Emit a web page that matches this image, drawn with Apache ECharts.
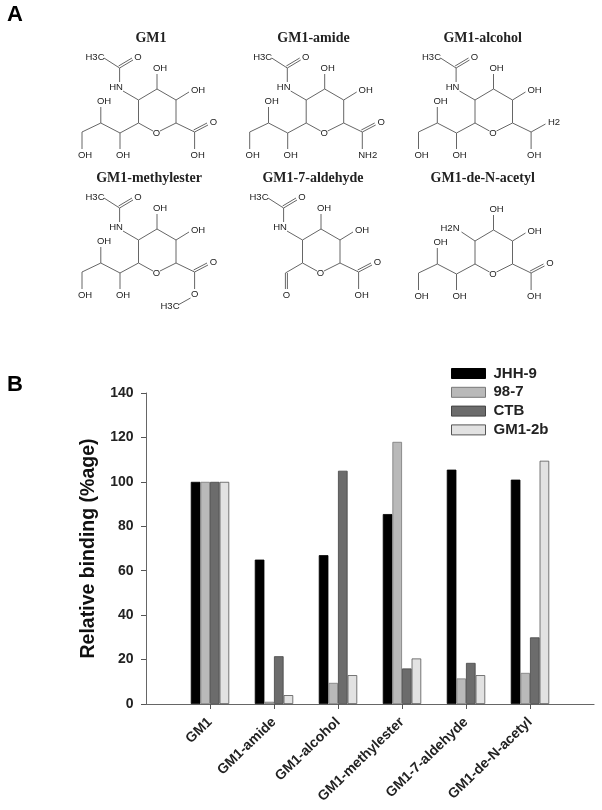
<!DOCTYPE html>
<html><head><meta charset="utf-8">
<style>html,body{margin:0;padding:0;background:#fff}#c{width:602px;height:810px}</style>
<script src="https://cdn.jsdelivr.net/npm/echarts@6/dist/echarts.min.js"></script>
</head><body><div id="c"></div>
<script>
const categories = ['GM1','GM1-amide','GM1-alcohol','GM1-methylester','GM1-7-aldehyde','GM1-de-N-acetyl'];
const jhh9  = [100, 65, 67, 85.5, 105.5, 101];
const s987  = [100, 1, 9.5, 118, 11.5, 14];
const ctb   = [100, 21.5, 105, 16, 18.5, 30];
const gm12b = [100, 4, 13, 20.5, 13, 109.5];
const seriesNames = ['JHH-9','98-7','CTB','GM1-2b'];
const seriesColors = ['#000000','#b9b9b9','#6c6c6c','#e2e2e2'];
const seriesBorders = ['#000000','#777777','#444444','#555555'];
const seriesValues = [jhh9, s987, ctb, gm12b];

// --- skeletal structure drawing (panel A), in a shared local frame ---
const ringBonds = [[157,89,176,100],[176,100,176,123],[176,123,160,131],[153,131,138.5,123],[138.5,123,138.5,100],[138.5,100,157,89],[157,89,157,74],[176,100,189,92]];
const ringLabels = [['O',156.5,133],['OH',160,68],['OH',198,90]];
const acetylBonds = [[138.5,100,123,91],[119.6,82,119.6,68],[104,58,119.6,68],[119.6,68,133,60],[118.6,66,132,58]];
const acetylLabels = [['HN',116,87],['H3C',95,57],['O',138,57]];
const tailBonds = [[138.5,123,120,133],[120,133,120,149],[120,133,100.8,123],[100.8,123,100.8,107],[100.8,123,82,132],[82,132,82,149]];
const tailLabels = [['OH',123,155],['OH',104,101],['OH',85,155]];
const acidDouble = [[176,123,194.6,132],[194.6,132,208,125],[193.6,130,207,123]];
const acidBonds = [[194.6,132,194.6,149]];
const structures = [
  {title:'GM1', tx:151, ty:38, dx:0, dy:0, bonds:[...acetylBonds,...tailBonds,...acidDouble,...acidBonds], labels:[...acetylLabels,...tailLabels,['O',213.5,122],['OH',197.7,155]]},
  {title:'GM1-amide', tx:313.5, ty:38, dx:167.7, dy:0, bonds:[...acetylBonds,...tailBonds,...acidDouble,...acidBonds], labels:[...acetylLabels,...tailLabels,['O',213.5,122],['NH2',200,155]]},
  {title:'GM1-alcohol', tx:482.7, ty:38, dx:336.5, dy:0, bonds:[...acetylBonds,...tailBonds,[176,123,194.6,132],[194.6,132,209,124],...acidBonds], labels:[...acetylLabels,...tailLabels,['H2',217.5,122],['OH',197.7,155]]},
  {title:'GM1-methylester', tx:149, ty:178, dx:0, dy:140, bonds:[...acetylBonds,...tailBonds,...acidDouble,[194.6,132,194.6,149],[190.5,158,178,165]], labels:[...acetylLabels,...tailLabels,['O',213.5,122],['O',194.6,154],['H3C',170,166]]},
  {title:'GM1-7-aldehyde', tx:313, ty:178, dx:164, dy:140, bonds:[...acetylBonds,[138.5,123,121.4,133],[121.4,133,121.4,149],[123.4,133,123.4,149],...acidDouble,...acidBonds], labels:[...acetylLabels,['O',122.4,155],['O',213.5,122],['OH',197.7,155]]},
  {title:'GM1-de-N-acetyl', tx:482.7, ty:178, dx:336.5, dy:141, bonds:[[138.5,100,125,91],...tailBonds,...acidDouble,...acidBonds], labels:[['H2N',113.5,87],...tailLabels,['O',213.5,122],['OH',197.7,155]]}
];
const panelLetters = [['A',15,15],['B',15,385]];

function structureGraphics(){
  const out = [];
  structures.forEach(s=>{
    out.push({type:'text',silent:true,style:{text:s.title,x:s.tx,y:s.ty,textAlign:'center',textVerticalAlign:'middle',font:'bold 14px "Liberation Serif"',fill:'#222'}});
    [...ringBonds,...s.bonds].forEach(b=>out.push({type:'line',silent:true,shape:{x1:b[0]+s.dx,y1:b[1]+s.dy,x2:b[2]+s.dx,y2:b[3]+s.dy},style:{stroke:'#666',lineWidth:1}}));
    [...ringLabels,...s.labels].forEach(l=>out.push({type:'text',silent:true,style:{text:l[0],x:l[1]+s.dx,y:l[2]+s.dy,textAlign:'center',textVerticalAlign:'middle',font:'9.5px "Liberation Sans"',fill:'#222'}}));
  });
  panelLetters.forEach(l=>out.push({type:'text',silent:true,style:{text:l[0],x:l[1],y:l[2],textAlign:'center',textVerticalAlign:'middle',font:'bold 22px "Liberation Sans"',fill:'#000'}}));
  return out;
}

const chart = echarts.init(document.getElementById('c'),null,{renderer:'canvas'});
chart.setOption({
  animation:false,
  backgroundColor:'#fff',
  grid:{left:146,top:393,width:448,height:311,containLabel:false},
  legend:{orient:'vertical',left:446,top:361,itemWidth:34,itemHeight:10,itemGap:3.8,icon:'rect',
    itemStyle:{borderWidth:1},
    textStyle:{fontFamily:'Liberation Sans',fontWeight:'bold',fontSize:15,color:'#222',padding:[0,0,0,3]},
    data:seriesNames},
  xAxis:{type:'category',boundaryGap:false,data:['',...categories,''],
    axisLine:{onZero:true,lineStyle:{color:'#666',width:1.2}},
    axisTick:{length:5,lineStyle:{color:'#555'},interval:(i,v)=>v!==''},
    axisLabel:{interval:0,rotate:44,margin:16,fontFamily:'Liberation Sans',fontWeight:'bold',fontSize:14,color:'#222'}},
  yAxis:{type:'value',min:0,max:140,interval:20,
    name:'Relative binding (%age)',nameLocation:'middle',nameGap:47,
    nameTextStyle:{fontFamily:'Liberation Sans',fontWeight:'bold',fontSize:19.5,color:'#111'},
    splitLine:{show:false},
    axisLine:{show:true,lineStyle:{color:'#666',width:1}},
    axisTick:{show:true,length:5,lineStyle:{color:'#555'}},
    axisLabel:{margin:12.5,fontFamily:'Liberation Sans',fontWeight:'bold',fontSize:14,color:'#222'}},
  series:seriesNames.map((n,i)=>({
    name:n,type:'bar',barWidth:9.6,barGap:'0%',
    data:[null,...seriesValues[i],null],
    itemStyle:{color:seriesColors[i],borderColor:seriesBorders[i],borderWidth:0.8}
  })),
  graphic:{elements:structureGraphics()}
});
</script></body></html>
